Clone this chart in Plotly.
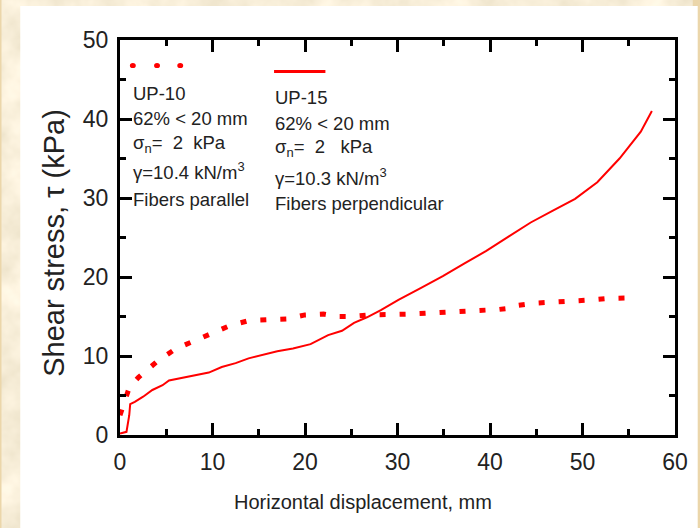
import base64
import plotly.graph_objects as go

# ---- data ----
up10_x = [0, 0.5, 1, 2, 3, 4, 5, 6, 7, 8, 9, 10, 11, 12, 13, 14, 16, 18, 20, 22, 23.5,
          25, 27, 29, 31, 33, 35, 37, 39, 41, 42.5, 43, 45, 47, 49, 51, 53, 55]
up10_y = [2.5, 4.5, 6.0, 7.3, 8.4, 9.3, 10.1, 10.9, 11.4, 11.9, 12.4, 12.9, 13.4, 13.9, 14.2,
          14.5, 14.6, 14.7, 15.2, 15.3, 15.0, 15.0, 15.2, 15.2, 15.3, 15.4, 15.5, 15.7, 15.8,
          15.9, 16.1, 16.4, 16.7, 16.8, 17.0, 17.1, 17.3, 17.35]

up15_x = [0, 0.7, 1.0, 1.1, 1.6, 2.5, 3.5, 4.6, 5.3, 6.6, 8.2, 9.6, 11.0, 12.5, 13.9, 15.8,
          17.0, 18.7, 20.6, 22.5, 24, 25.3, 26.7, 28.2, 30.1, 32.5, 34.9, 37.2, 39.6, 42,
          44.4, 46.8, 49.2, 51.6, 54.0, 56.3, 57.5]
up15_y = [0.2, 0.4, 2.5, 3.9, 4.2, 4.85, 5.7, 6.3, 6.9, 7.2, 7.5, 7.9, 8.6, 9.1, 9.7, 10.3,
          10.6, 10.95, 11.5, 12.65, 13.2, 14.2, 14.9, 15.8, 17.1, 18.6, 20.1, 21.7, 23.3, 25.1,
          26.9, 28.4, 29.9, 32.0, 35.0, 38.4, 41.0]

x_ticks = [0, 10, 20, 30, 40, 50, 60]
y_ticks = [0, 10, 20, 30, 40, 50]

left_text = ["UP-10", "62% < 20 mm", "σ<sub>n</sub>=\u00a0 2\u00a0 kPa",
             "γ=10.4 kN/m<sup>3</sup>", "Fibers parallel"]
right_text = ["UP-15", "62% < 20 mm", "σ<sub>n</sub>=\u00a0 2\u00a0\u00a0 kPa",
              "γ=10.3 kN/m<sup>3</sup>", "Fibers perpendicular"]

RED = "#ff0000"
TXT = "#222222"
FONT = "Liberation Sans, Arial, sans-serif"

# parchment-like background texture (SVG noise)
svg = ("<svg xmlns='http://www.w3.org/2000/svg' width='700' height='528'>"
       "<filter id='f' x='0' y='0' width='100%' height='100%'>"
       "<feTurbulence type='fractalNoise' baseFrequency='0.025' numOctaves='4' seed='7'/>"
       "<feColorMatrix type='matrix' values='0.35 0 0 0 0.755  0.35 0 0 0 0.675  "
       "0.4 0 0 0 0.485  0 0 0 0 1'/></filter>"
       "<rect width='700' height='528' filter='url(#f)'/></svg>")
bg_uri = "data:image/svg+xml;base64," + base64.b64encode(svg.encode()).decode()

fig = go.Figure()
fig.add_trace(go.Scatter(x=up10_x, y=up10_y, mode="lines",
                         line=dict(color=RED, width=5, dash="6px,14px"),
                         showlegend=False))
fig.add_trace(go.Scatter(x=up15_x, y=up15_y, mode="lines",
                         line=dict(color=RED, width=2),
                         showlegend=False))

# plot-area geometry (px)
L, R, T, B = 120, 682, 40, 435
W, H = R - L, B - T


def px_x(p):
    return (p - L) / W


def px_y(p):
    return (B - p) / H


shapes = [
    dict(type="rect", xref="paper", yref="paper", layer="below",
         x0=px_x(19), x1=px_x(705), y0=px_y(533), y1=px_y(6),
         fillcolor="white", line=dict(width=0)),
    dict(type="line", xref="paper", yref="paper", x0=px_x(276), x1=px_x(328),
         y0=px_y(71.5), y1=px_y(71.5), line=dict(color=RED, width=3)),
]
for cx in (133, 157.5, 181):
    shapes.append(dict(type="circle", xref="paper", yref="paper",
                       x0=px_x(cx - 3), x1=px_x(cx + 3), y0=px_y(65.5 + 2.6), y1=px_y(65.5 - 2.6),
                       fillcolor=RED, line=dict(width=0)))

annotations = []
for txt, py in zip(left_text, [94, 119, 144, 171, 199]):
    annotations.append(dict(text=txt, xref="paper", yref="paper", x=px_x(131), y=px_y(py),
                            xanchor="left", yanchor="middle", showarrow=False,
                            font=dict(family=FONT, size=18.5, color=TXT)))
for txt, py in zip(right_text, [97, 123, 148, 177, 203]):
    annotations.append(dict(text=txt, xref="paper", yref="paper", x=px_x(275), y=px_y(py),
                            xanchor="left", yanchor="middle", showarrow=False,
                            font=dict(family=FONT, size=18.5, color=TXT)))
annotations.append(dict(text="Horizontal displacement, mm", xref="paper", yref="paper",
                        x=px_x(366), y=px_y(502), xanchor="center", yanchor="middle",
                        showarrow=False,
                        font=dict(family=FONT, size=20, color=TXT)))
annotations.append(dict(text="Shear stress, τ (kPa)", xref="paper", yref="paper",
                        x=px_x(53), y=px_y(243), xanchor="center", yanchor="middle",
                        textangle=-90, showarrow=False,
                        font=dict(family=FONT, size=29, color=TXT)))

axis_common = dict(
    showline=True, linecolor="black", linewidth=3, mirror="allticks",
    ticks="inside", ticklen=12, tickwidth=3, tickcolor="black",
    showgrid=False, zeroline=False,
    tickfont=dict(family=FONT, size=23, color=TXT),
)

fig.update_layout(
    width=700, height=528,
    margin=dict(l=L, r=700 - R, t=T, b=528 - B),
    paper_bgcolor="#ebd6aa",
    plot_bgcolor="white",
    images=[dict(source=bg_uri, xref="paper", yref="paper", x=px_x(0), y=px_y(0),
                 sizex=px_x(700) - px_x(0), sizey=px_y(0) - px_y(528),
                 xanchor="left", yanchor="top", sizing="stretch", layer="below")],
    shapes=shapes,
    annotations=annotations,
    xaxis=dict(range=[0, 60], tickvals=x_ticks, ticktext=[str(v) for v in x_ticks],
               minor=dict(ticks="inside", ticklen=6, tickwidth=2.5, tickcolor="black", dtick=5,
                          showgrid=False),
               ticklabelstandoff=4, **axis_common),
    yaxis=dict(range=[0, 50], tickvals=y_ticks, ticktext=[str(v) for v in y_ticks],
               minor=dict(ticks="inside", ticklen=6, tickwidth=2.5, tickcolor="black", dtick=5,
                          showgrid=False),
               ticklabelstandoff=4, **axis_common),
)

fig.write_html("out.html")
